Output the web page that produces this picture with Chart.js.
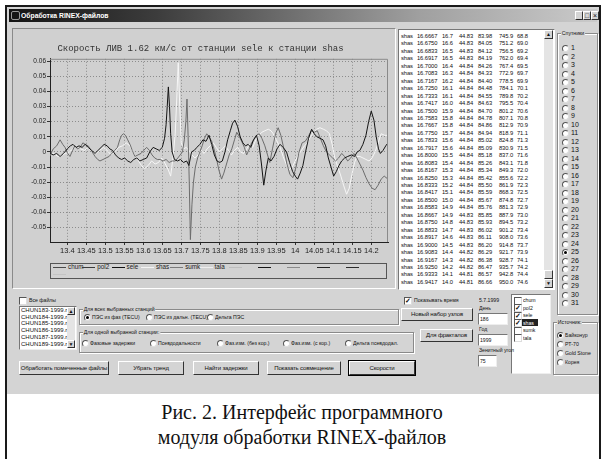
<!DOCTYPE html>
<html>
<head>
<meta charset="utf-8">
<title>Обработка RINEX-файлов</title>
<script src="https://cdn.jsdelivr.net/npm/chart.js@4.4.1/dist/chart.umd.min.js"></script>
<style>
  body { margin:0; width:604px; height:459px; overflow:hidden; background:#fff; position:relative;
         font-family:"Liberation Sans", Arial, sans-serif; color:#111; }
  .a { position:absolute; }
  #frame { left:5px; top:5px; width:592px; height:470px; border:2px solid #1a1a1a; border-bottom:none; }
  #win { left:7px; top:7px; width:592px; height:387px; background:#d4d4d4; }
  #titlebar { left:9px; top:9px; width:588px; height:13px;
              background:linear-gradient(to right,#141414,#3c3c3c 25%,#a0a0a0 70%,#cacaca); }
  #panel { left:12px; top:28px; width:382px; height:259px; background:#d0d0d0;
           border:1px solid; border-color:#8a8a8a #fff #fff #8a8a8a; }
  #chartBox { left:13px; top:33px; width:383px; height:228px; }
  #legendBox { left:50px; top:263px; width:335px; height:14px; border:1px solid #555; background:#d2d2d2; }
  #listBox { left:398px; top:29px; width:155px; height:259px; background:#fff; overflow:hidden;
             border:1px solid; border-color:#777 #fff #fff #777; }
  .sunk { background:#fff; border:1px solid; border-color:#777 #eee #eee #777; }
  .caption { left:0; width:604px; text-align:center; font-family:"Liberation Serif","Times New Roman",serif;
             font-size:20px; color:#111; white-space:nowrap; }
</style>
</head>
<body>
<div id="frame" class="a"></div>
<div id="win" class="a"></div>
<div id="titlebar" class="a"></div>
<div id="panel" class="a"></div>
<div id="chartBox" class="a"><canvas id="chart" width="383" height="228"></canvas></div>
<div id="legendBox" class="a"></div>
<div id="listBox" class="a"></div>
<div id="ui"></div>
<div class="a caption" style="top:401px">Рис. 2. Интерфейс программного</div>
<div class="a caption" style="top:426px">модуля обработки RINEX-файлов</div>

<script>
// ---- chart data ----
var chartTitle = 'Скорость ЛИВ 1.62 км/с от станции sele к станции shas';
var xTicks = [13.4, 13.45, 13.5, 13.55, 13.6, 13.65, 13.7, 13.75, 13.8, 13.85, 13.9, 13.95, 14, 14.05, 14.1, 14.15, 14.2];
var yTicks = [-0.05, -0.04, -0.03, -0.02, -0.01, 0, 0.01, 0.02, 0.03, 0.04, 0.05, 0.06];
var xMin = 13.3545, xMax = 14.244, yMin = -0.0596, yMax = 0.0616;

var stations = ['chum', 'pol2', 'sele', 'shas', 'sumk', 'tala'];
var checkedStations = ['pol2', 'sele', 'shas'];

// sele (black)
var seleX = [13.355,13.363,13.372,13.381,13.390,13.400,13.408,13.415,13.423,13.431,13.439,13.447,13.455,13.464,13.473,13.481,13.489,13.497,13.505,13.512,
  13.519,13.527,13.535,13.543,13.551,13.559,13.567,13.575,13.583,13.591,13.600,13.609,13.617,13.626,13.634,13.642,13.650,13.656,13.660,13.663,
  13.666,13.669,13.672,13.676,13.682,13.690,13.698,13.706,13.714,13.720,13.727,13.734,13.741,13.749,13.757,13.765,13.773,13.780,13.787,13.794,
  13.801,13.808,13.815,13.822,13.829,13.835,13.841,13.848,13.855,13.862,13.869,13.876,13.883,13.890,13.898,13.905,13.911,13.917,13.923,13.929,
  13.936,13.944,13.952,13.960,13.968,13.977,13.985,13.993,14.000,14.006,14.013,14.020,14.027,14.035,14.043,14.050,14.057,14.065,14.073,14.080,
  14.087,14.094,14.101,14.108,14.115,14.122,14.130,14.138,14.148,14.156,14.163,14.170,14.178,14.186,14.193,14.200,14.207,14.213,14.219,14.224,
  14.231,14.238,14.244];
var seleY = [-0.001,-0.002,-0.001,-0.003,-0.001,0.002,0.004,0.005,0.003,0.004,0.003,0.005,0.003,0.001,-0.001,0.001,0.003,0.005,0.004,0.002,
  0.001,-0.002,-0.004,-0.005,-0.004,-0.006,-0.007,-0.005,-0.004,-0.006,-0.005,-0.004,0.000,0.003,0.002,0.001,0.003,0.009,0.018,0.030,
  0.043,0.030,0.012,0.000,-0.005,-0.006,-0.005,-0.007,-0.006,-0.009,0.000,0.001,0.003,0.005,0.008,0.007,0.011,0.005,-0.002,-0.006,
  -0.007,-0.006,0.000,0.008,0.014,0.019,0.021,0.017,0.010,0.006,0.004,0.005,0.003,0.008,0.011,0.004,-0.008,-0.022,-0.012,-0.004,
  -0.006,-0.003,0.002,0.005,0.003,0.000,-0.007,-0.013,-0.016,-0.018,-0.014,-0.009,0.000,0.009,0.015,0.012,0.010,0.009,0.008,0.004,
  -0.004,-0.010,-0.016,-0.013,-0.009,-0.006,-0.004,-0.003,-0.002,-0.003,0.000,0.001,0.005,0.011,0.020,0.027,0.021,0.010,0.002,-0.001,
  0.001,0.004,0.006];

// pol2 (grey)
var pol2X = [13.355,13.363,13.372,13.381,13.388,13.394,13.401,13.407,13.414,13.420,13.427,13.434,13.441,13.447,13.455,13.463,13.473,13.480,13.486,13.494,
  13.502,13.510,13.517,13.525,13.532,13.538,13.543,13.548,13.553,13.559,13.565,13.571,13.578,13.586,13.594,13.601,13.609,13.616,13.623,13.630,
  13.637,13.644,13.652,13.660,13.668,13.676,13.684,13.691,13.697,13.703,13.708,13.712,13.715,13.718,13.721,13.724,13.728,13.732,13.737,13.743,
  13.749,13.755,13.761,13.767,13.773,13.780,13.786,13.793,13.799,13.806,13.812,13.819,13.826,13.833,13.840,13.846,13.853,13.859,13.866,13.872,
  13.879,13.885,13.891,13.898,13.905,13.912,13.920,13.927,13.933,13.940,13.948,13.955,13.962,13.970,13.978,13.986,13.994,14.002,14.010,14.018,
  14.026,14.034,14.042,14.050,14.058,14.066,14.074,14.082,14.090,14.098,14.106,14.114,14.122,14.130,14.138,14.146,14.154,14.162,14.170,14.178,
  14.186,14.194,14.202,14.210,14.218,14.226,14.234,14.244];
var pol2Y = [-0.002,0.002,0.004,0.008,0.005,0.003,-0.001,-0.003,0.001,0.004,0.002,0.003,0.006,0.005,0.004,0.001,-0.003,-0.005,-0.006,-0.005,
  -0.004,-0.003,-0.001,0.001,0.003,0.008,0.011,0.012,0.011,0.008,0.005,0.001,-0.003,-0.002,-0.001,0.001,0.003,0.001,-0.002,-0.004,
  -0.005,-0.005,-0.006,-0.005,-0.007,-0.006,-0.006,-0.004,-0.002,0.000,0.008,0.020,0.035,0.010,-0.020,-0.058,-0.035,-0.020,-0.010,-0.004,
  0.000,0.004,0.009,0.012,0.010,0.007,0.002,-0.005,-0.012,-0.018,-0.014,-0.008,-0.002,0.002,0.008,0.013,0.010,0.007,0.003,-0.002,
  0.002,0.006,0.008,0.011,0.012,0.009,0.004,-0.002,-0.007,0.002,0.012,0.016,0.011,0.002,-0.008,-0.015,-0.017,-0.010,0.000,0.006,
  0.007,0.010,0.014,0.013,0.014,0.009,0.004,0.000,-0.002,-0.004,-0.006,-0.004,-0.001,-0.003,-0.006,-0.004,-0.001,-0.004,-0.008,-0.012,
  -0.017,-0.021,-0.024,-0.025,-0.022,-0.018,-0.016,-0.018];

// shas (white)
var shasX = [13.355,13.365,13.375,13.385,13.395,13.405,13.415,13.425,13.435,13.445,13.455,13.465,13.475,13.485,13.495,13.505,13.515,13.525,13.535,13.545,
  13.555,13.565,13.575,13.585,13.595,13.604,13.613,13.622,13.631,13.640,13.649,13.658,13.666,13.672,13.678,13.684,13.688,13.692,13.696,13.700,
  13.706,13.713,13.720,13.728,13.736,13.744,13.752,13.760,13.768,13.776,13.784,13.792,13.800,13.808,13.816,13.824,13.832,13.840,13.848,13.856,
  13.864,13.872,13.880,13.888,13.896,13.904,13.912,13.920,13.929,13.936,13.942,13.950,13.960,13.968,13.976,13.984,13.992,14.000,14.008,14.016,
  14.024,14.032,14.040,14.048,14.056,14.065,14.074,14.082,14.090,14.097,14.104,14.112,14.120,14.127,14.135,14.142,14.149,14.156,14.162,14.170,
  14.178,14.186,14.194,14.202,14.210,14.218,14.226,14.235,14.244];
var shasY = [-0.002,-0.001,-0.003,-0.002,-0.001,0.000,0.002,0.004,0.002,0.001,0.003,0.000,-0.001,0.001,0.003,0.001,-0.002,0.000,0.003,0.004,
  0.006,0.004,-0.001,-0.005,-0.009,-0.011,-0.009,-0.006,-0.008,-0.007,-0.004,-0.008,-0.012,-0.016,-0.004,0.012,0.035,0.059,0.030,0.006,
  0.002,0.003,0.001,-0.002,-0.004,-0.002,0.001,-0.001,0.002,0.004,0.006,0.003,0.000,0.002,0.004,0.001,-0.002,0.001,0.003,0.000,
  -0.001,0.002,0.005,0.003,0.008,0.011,0.013,0.014,0.015,0.014,0.012,0.008,0.003,-0.003,-0.008,-0.012,-0.010,-0.006,-0.002,0.001,
  0.004,0.006,0.010,0.013,0.015,0.016,0.015,0.014,0.012,0.005,-0.004,-0.010,-0.016,-0.022,-0.028,-0.024,-0.015,-0.007,-0.003,-0.003,
  -0.004,-0.005,-0.006,-0.004,0.000,0.006,0.012,0.011,0.011];

var legendNames = ['chum', 'pol2', 'sele', 'shas', 'sumk', 'tala', '', '', '', '', '', ''];
var legendColors = ['#4a4a4a', '#3a3a3a', '#111', '#f4f4f4', '#7a7a7a', '#eeeeee', '#bdbdbd', '#151515', '#8a8a8a', '#222', '#2a2a2a', '#c4c4c4'];

function pts(xs, ys) { return xs.map(function (x, i) { return { x: x, y: ys[i] }; }); }

var chart = new Chart(document.getElementById('chart'), {
  type: 'line',
  data: {
    datasets: [
      { label: 'sele', data: pts(seleX, seleY), borderColor: '#141414' },
      { label: 'pol2', data: pts(pol2X, pol2Y), borderColor: '#6c6c6c' },
      { label: 'shas', data: pts(shasX, shasY), borderColor: '#f6f6f6' }
    ]
  },
  options: {
    responsive: false,
    animation: false,
    layout: { padding: { left: 0, right: 8, top: 0, bottom: 0 } },
    elements: { point: { radius: 0 }, line: { borderWidth: 1, tension: 0 } },
    plugins: {
      legend: { display: false },
      tooltip: { enabled: false },
      title: {
        display: true, text: chartTitle, color: '#333',
        font: { family: '"Liberation Mono", "DejaVu Sans Mono", monospace', size: 9, weight: 'normal' },
        padding: { top: 10, bottom: 5 }
      }
    },
    scales: {
      x: {
        type: 'linear', min: xMin, max: xMax,
        afterBuildTicks: function (a) { a.ticks = xTicks.map(function (v) { return { value: v }; }); },
        afterFit: function (s) { s.height = 19; },
        ticks: { color: '#222', padding: 1, maxRotation: 0, autoSkip: false,
                 font: { family: '"Liberation Sans", Arial', size: 7.5 },
                 callback: function (v) { return String(Math.round(v * 100) / 100); } },
        grid: { color: '#8c8c8c', tickLength: 3, tickColor: '#333' },
        border: { color: '#222', width: 1, dash: [1, 2] }
      },
      y: {
        min: yMin, max: yMax,
        afterBuildTicks: function (a) { a.ticks = yTicks.map(function (v) { return { value: v }; }); },
        afterFit: function (s) { s.width = 37; },
        ticks: { color: '#222', padding: 1, autoSkip: false,
                 font: { family: '"Liberation Sans", Arial', size: 6.5 },
                 callback: function (v) { return String(Math.round(v * 100) / 100); } },
        grid: { color: '#8c8c8c', tickLength: 3, tickColor: '#333' },
        border: { color: '#222', width: 1, dash: [1, 2] }
      }
    }
  },
  plugins: [{
    id: 'frame',
    afterDraw: function (c) {
      var a = c.chartArea, ctx = c.ctx;
      ctx.save();
      ctx.strokeStyle = '#8a8a8a';
      ctx.lineWidth = 1;
      ctx.beginPath();
      ctx.moveTo(a.left, a.top + 0.5); ctx.lineTo(a.right - 0.5, a.top + 0.5); ctx.lineTo(a.right - 0.5, a.bottom);
      ctx.stroke();
      ctx.restore();
    }
  }]
});

// ---- legend ----
var lb = document.getElementById('legendBox');
legendNames.forEach(function (n, i) {
  var row = i < 11 ? 0 : 1, col = i < 11 ? i : 0;
  var d = document.createElement('div');
  d.className = 'a';
  d.style.cssText = 'left:' + (2 + col * 29.3) + 'px;top:' + (row * 7 - 1) + 'px;white-space:nowrap;font-size:6.3px;line-height:8px;color:#222;';
  d.innerHTML = '<span style="display:inline-block;width:13px;height:0;border-top:1px solid ' + legendColors[i] + ';vertical-align:middle;margin-right:2px"></span>' + n;
  lb.appendChild(d);
});

// ---- listbox with coordinates ----
var listRows = [
  'shas 16.6667 16.7 44.83 83.98 745.9 68.8', 'shas 16.6750 16.6 44.83 84.05 751.2 69.0',
  'shas 16.6833 16.5 44.83 84.12 756.5 69.2', 'shas 16.6917 16.5 44.83 84.19 762.0 69.4',
  'shas 16.7000 16.4 44.84 84.26 767.4 69.5', 'shas 16.7083 16.3 44.84 84.33 772.9 69.7',
  'shas 16.7167 16.2 44.84 84.40 778.5 69.9', 'shas 16.7250 16.1 44.84 84.48 784.1 70.1',
  'shas 16.7333 16.1 44.84 84.55 789.8 70.2', 'shas 16.7417 16.0 44.84 84.63 795.5 70.4',
  'shas 16.7500 15.9 44.84 84.70 801.2 70.6', 'shas 16.7583 15.8 44.84 84.78 807.1 70.8',
  'shas 16.7667 15.8 44.84 84.86 812.9 70.9', 'shas 16.7750 15.7 44.84 84.94 818.9 71.1',
  'shas 16.7833 15.6 44.84 85.02 824.8 71.3', 'shas 16.7917 15.6 44.84 85.09 830.9 71.5',
  'shas 16.8000 15.5 44.84 85.18 837.0 71.6', 'shas 16.8083 15.4 44.84 85.26 843.1 71.8',
  'shas 16.8167 15.3 44.84 85.34 849.3 72.0', 'shas 16.8250 15.3 44.84 85.42 855.6 72.2',
  'shas 16.8333 15.2 44.84 85.50 861.9 72.3', 'shas 16.8417 15.1 44.84 85.59 868.3 72.5',
  'shas 16.8500 15.0 44.84 85.67 874.8 72.7', 'shas 16.8583 14.9 44.84 85.76 881.3 72.9',
  'shas 16.8667 14.9 44.83 85.85 887.9 73.0', 'shas 16.8750 14.8 44.83 85.93 894.5 73.2',
  'shas 16.8833 14.7 44.83 86.02 901.2 73.4', 'shas 16.8917 14.6 44.83 86.11 908.0 73.6',
  'shas 16.9000 14.5 44.83 86.20 914.8 73.7', 'shas 16.9083 14.4 44.82 86.29 921.7 73.9',
  'shas 16.9167 14.3 44.82 86.38 928.7 74.1', 'shas 16.9250 14.2 44.82 86.47 935.7 74.2',
  'shas 16.9333 14.1 44.81 86.57 942.8 74.4', 'shas 16.9417 14.0 44.81 86.66 950.0 74.6'
];
var listCols = [2, 18, 43, 60, 79, 100, 118];
var listBox = document.getElementById('listBox');
listRows.forEach(function (r, i) {
  r.split(' ').forEach(function (t, j) {
    var d = document.createElement('div');
    d.className = 'a';
    d.style.cssText = 'left:' + listCols[j] + 'px;top:' + (3 + i * 7.45) + 'px;font-size:5.8px;line-height:7px;white-space:nowrap;letter-spacing:-0.1px;';
    d.textContent = t;
    listBox.appendChild(d);
  });
});

// ---- window controls ----
var ui = document.getElementById('ui');
function el(css, text) {
  var e = document.createElement('div');
  e.className = 'a';
  e.style.cssText = css;
  if (text != null) e.textContent = text;
  ui.appendChild(e);
  return e;
}
function txt(x, y, s, extra) {
  return el('left:' + x + 'px;top:' + (y - 4) + 'px;font-size:6px;line-height:8px;white-space:nowrap;transform:scaleX(0.86);transform-origin:0 50%;' + (extra || ''), s);
}
function radio(x, y, on) {
  el('left:' + x + 'px;top:' + (y - 3) + 'px;width:5px;height:5px;border-radius:50%;background:#fff;border:1px solid;border-color:#555 #ddd #ddd #555;');
  if (on) el('left:' + (x + 2) + 'px;top:' + (y - 1) + 'px;width:3px;height:3px;border-radius:50%;background:#000;');
}
function check(x, y, on) {
  el('left:' + x + 'px;top:' + (y - 3.5) + 'px;width:6px;height:6px;background:#fff;border:1px solid;border-color:#555 #ddd #ddd #555;font-size:7px;line-height:6px;text-align:center;font-weight:bold;', on ? '✓' : '');
}
function button(x, y, w, h, s, def) {
  el('left:' + x + 'px;top:' + y + 'px;width:' + (w - 2) + 'px;height:' + (h - 2) + 'px;background:#d4d4d4;border:1px solid;border-color:#fff #333 #333 #fff;' +
     (def ? 'outline:1px solid #000;' : '') + 'font-size:6px;letter-spacing:-0.15px;line-height:' + (h - 2) + 'px;text-align:center;white-space:nowrap;', s);
}
function group(x, y, w, h, label) {
  el('left:' + x + 'px;top:' + y + 'px;width:' + (w - 2) + 'px;height:' + (h - 2) + 'px;border:1px solid #8a8a8a;box-shadow:inset 1px 1px 0 #fff, 1px 1px 0 #fff;');
  if (label) txt(x + 4, y, label, 'background:#d4d4d4;padding:0 1px;');
}

// title bar
txt(21, 15.5, 'Обработка RINEX-файлов', 'color:#fff;font-weight:bold;font-size:6.8px;transform:none;');
el('left:11px;top:11px;width:7px;height:7px;border:1px solid #999;border-radius:2px;');
['_', '□', '×'].forEach(function (s, i) {
  el('left:' + (575 + i * 8) + 'px;top:11px;width:6px;height:7px;background:#d4d4d4;border:1px solid;border-color:#fff #333 #333 #fff;font-size:7px;line-height:7px;text-align:center;', s);
});

// list scrollbar
el('left:544px;top:30px;width:9px;height:257px;background:#e4e4e4;');
el('left:544px;top:30px;width:7px;height:7px;background:#d4d4d4;border:1px solid;border-color:#fff #333 #333 #fff;font-size:5px;line-height:7px;text-align:center;', '▲');
el('left:544px;top:279px;width:7px;height:7px;background:#d4d4d4;border:1px solid;border-color:#fff #333 #333 #fff;font-size:5px;line-height:7px;text-align:center;', '▼');
el('left:544px;top:270px;width:7px;height:7px;background:#d4d4d4;border:1px solid;border-color:#fff #333 #333 #fff;');

// satellites
group(557, 33, 41, 282, 'Спутники');
for (var s = 1; s <= 31; s++) {
  radio(562, 48 + (s - 1) * 8.5, s === 25);
  txt(571, 48 + (s - 1) * 8.5, String(s), 'font-size:7px;transform:none;');
}

// source
group(553, 322, 45, 53, 'Источник:');
['Байконур', 'РТ-70', 'Gold Stone', 'Корея'].forEach(function (n, i) {
  radio(557, 335 + i * 9, i === 0);
  txt(565, 335 + i * 9, n);
});

// station check list
el('left:511px;top:294px;width:38px;height:78px;background:#fff;border:1px solid;border-color:#777 #eee #eee #777;');
stations.forEach(function (n, i) {
  var y = 300 + i * 7.5;
  check(514, y, checkedStations.indexOf(n) >= 0);
  if (n === 'shas') el('left:522px;top:' + (y - 3.5) + 'px;width:16px;height:7px;background:#222;');
  txt(523, y, n, n === 'shas' ? 'color:#fff;' : '');
});

// time / date controls
check(404, 300, true);
txt(414, 300, 'Показывать время');
txt(479, 300, '5.7.1999');
txt(479, 308, 'День');
el('left:478px;top:313px;width:28px;height:10px;').className = 'a sunk';
txt(480, 318.5, '186');
button(401, 308, 72, 13, 'Новый набор узлов');
txt(479, 329, 'Год');
el('left:478px;top:334px;width:28px;height:10px;').className = 'a sunk';
txt(480, 339.5, '1999');
button(420, 329, 53, 13, 'Для фракталов');
txt(479, 350, 'Зенитный угол');
el('left:478px;top:355px;width:17px;height:10px;').className = 'a sunk';
txt(480, 360.5, '75');

// files
check(19, 300, false);
txt(29, 300, 'Все файлы');
var fileRows = ['CHUN183-1999.r', 'CHUN184-1999.r', 'CHUN185-1999.r', 'CHUN186-1999.r', 'CHUN187-1999.r', 'CHUN189-1999.r'];
el('left:19px;top:306px;width:56px;height:42px;background:#fff;border:1px solid;border-color:#777 #eee #eee #777;overflow:hidden;');
fileRows.forEach(function (f, i) {
  el('left:21px;top:' + (307 + i * 6.7) + 'px;width:46px;overflow:hidden;font-size:6px;line-height:7px;white-space:nowrap;', f);
});
el('left:67px;top:307px;width:8px;height:41px;background:#e4e4e4;');
el('left:67px;top:307px;width:6px;height:6px;background:#d4d4d4;border:1px solid;border-color:#fff #333 #333 #fff;font-size:5px;line-height:6px;text-align:center;', '▲');
el('left:67px;top:340px;width:6px;height:6px;background:#d4d4d4;border:1px solid;border-color:#fff #333 #333 #fff;font-size:5px;line-height:6px;text-align:center;', '▼');

// mode groups
group(79, 309, 320, 16, 'Для всех выбранных станций');
[['ПЭС из фаз (TECU)', 84, true], ['ПЭС из дальн. (TECU)', 146, false], ['Дельта ПЭС', 207, false]].forEach(function (r) {
  radio(r[1], 317, r[2]);
  txt(r[1] + 8, 317, r[0]);
});
group(79, 332, 335, 21, 'Для одной выбранной станции:');
[['Фазовые задержки', 82], ['Псевдодальности', 150], ['Фаз.изм. (без кор.)', 217], ['Фаз.изм. (с кор.)', 283], ['Дельта псевдодал.', 345]].forEach(function (r) {
  radio(r[1], 343, false);
  txt(r[1] + 8, 343, r[0]);
});

// buttons
button(19, 361, 90, 14, 'Обработать помеченные файлы');
button(118, 361, 66, 14, 'Убрать тренд');
button(193, 361, 66, 14, 'Найти задержки');
button(267, 361, 74, 14, 'Показать совмещение');
button(349, 361, 66, 14, 'Скорости', true);
</script>
</body>
</html>
